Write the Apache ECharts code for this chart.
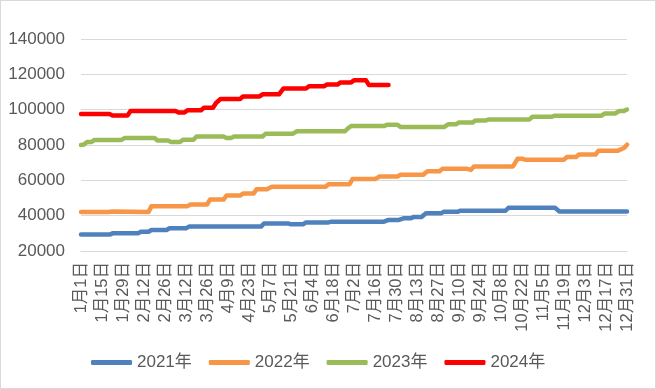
<!DOCTYPE html>
<html><head><meta charset="utf-8">
<script src="https://cdn.jsdelivr.net/npm/echarts@6/dist/echarts.min.js"></script>
<style>
html,body{margin:0;padding:0;background:#fff}
#c{position:absolute;left:0;top:0;width:656px;height:389px}
#b{position:absolute;left:0;top:0;width:656px;height:389px;box-sizing:border-box;border:1px solid #d9d9d9;pointer-events:none}
</style>
</head><body><div id="c"></div><div id="b"></div><script>
// x tick labels, one every 14 days (day index 0..364)
var tickLabels = ['1月1日','1月15日','1月29日','2月12日','2月26日','3月12日','3月26日','4月9日','4月23日','5月7日','5月21日','6月4日','6月18日','7月2日','7月16日','7月30日','8月13日','8月27日','9月10日','9月24日','10月8日','10月22日','11月5日','11月19日','12月3日','12月17日','12月31日'];
var seriesNames = ['2021年','2022年','2023年','2024年'];

// keypoints: day index of year / value
var days2021 = [0,19,21,38,40,45,47,57,59,70,72,120,122,138,140,148,150,165,167,202,205,212,215,220,222,227,230,240,242,251,253,283,285,316,319,364];
var vals2021 = [29300,29300,30000,30000,30900,30900,31900,31900,32900,32900,33800,33800,35600,35600,35100,35100,36200,36200,36600,36600,37600,37600,38500,38500,39300,39300,41400,41400,42200,42200,42800,42800,44500,44500,42300,42300];

var days2022 = [0,18,19,21,22,45,47,71,73,84,86,95,97,106,108,115,117,124,127,163,165,179,181,196,199,211,213,228,231,239,241,257,258,260,262,288,291,294,296,322,324,330,332,343,345,358,362,364];
var vals2022 = [42100,42100,42400,42400,42100,42100,45400,45400,46300,46300,49100,49100,51400,51400,52500,52500,54900,54900,56300,56300,57800,57800,60700,60700,62200,62200,63100,63100,65100,65100,66600,66600,65900,65900,67900,67900,72200,72200,71700,71700,73200,73200,74600,74600,76800,76800,78300,80200];

var days2023 = [0,2,4,7,9,27,29,49,51,58,60,66,68,75,77,95,97,100,102,121,123,141,144,176,178,180,202,204,211,213,242,245,250,252,261,263,270,272,299,301,314,316,347,349,356,359,362,364];
var vals2023 = [80000,80300,81700,81700,82900,82900,83900,83900,82500,82500,81700,81700,83000,83000,84800,84800,84000,84000,84800,84800,86300,86300,87800,87800,89500,90700,90700,91500,91500,90200,90200,91800,91800,92700,92700,93900,93900,94500,94500,96000,96000,96600,96600,97800,97800,99300,99300,100100];

var days2024 = [0,19,21,31,33,63,65,69,71,80,82,88,90,93,106,108,119,121,132,135,150,152,162,164,171,173,180,182,190,192,205];
var vals2024 = [97500,97500,96700,96700,99200,99200,98400,98400,99700,99700,101100,101100,103800,106000,106000,107500,107500,108700,108700,112000,112000,113300,113300,114200,114200,115400,115400,116600,116600,113900,113900];

var colors = ['#4F81BD','#F79646','#9BBB59','#FF0000'];
function pairs(d, v){ return d.map(function(x,i){ return [x, v[i]]; }); }
var allData = [pairs(days2021,vals2021), pairs(days2022,vals2022), pairs(days2023,vals2023), pairs(days2024,vals2024)];

var chart = echarts.init(document.getElementById('c'), null, {renderer:'canvas'});
var ff = 'Liberation Sans, Noto Sans CJK SC, sans-serif';
chart.setOption({
  animation:false,
  backgroundColor:'#fff',
  color: colors,
  grid:{left:81, right:29, top:39, height:212, containLabel:false},
  xAxis:{
    type:'value', min:0, max:364, interval:14,
    axisLine:{show:true, lineStyle:{color:'#d9d9d9', width:1}},
    axisTick:{show:false},
    splitLine:{show:false},
    axisLabel:{
      rotate:90, margin:11, fontSize:16.5, color:'#595959', fontFamily:ff, hideOverlap:false,
      formatter:function(v){ return tickLabels[Math.round(v/14)] || ''; }
    }
  },
  yAxis:{
    type:'value', min:20000, max:140000, interval:20000,
    axisLine:{show:false}, axisTick:{show:false},
    splitLine:{lineStyle:{color:'#d9d9d9', width:1}},
    axisLabel:{fontSize:17, color:'#595959', margin:16, fontFamily:ff,
      formatter:function(v){ return String(v); }}
  },
  legend:{
    data: seriesNames, left:86, top:349, icon:'roundRect',
    itemWidth:41, itemHeight:5, itemGap:17,
    textStyle:{fontSize:17, color:'#595959', fontFamily:ff}
  },
  series: seriesNames.map(function(n,i){
    return {
      name:n, type:'line', data:allData[i], showSymbol:false, symbol:'none',
      lineStyle:{width:4.5, color:colors[i], cap:'round', join:'round'},
      itemStyle:{color:colors[i]}
    };
  })
});
</script></body></html>
